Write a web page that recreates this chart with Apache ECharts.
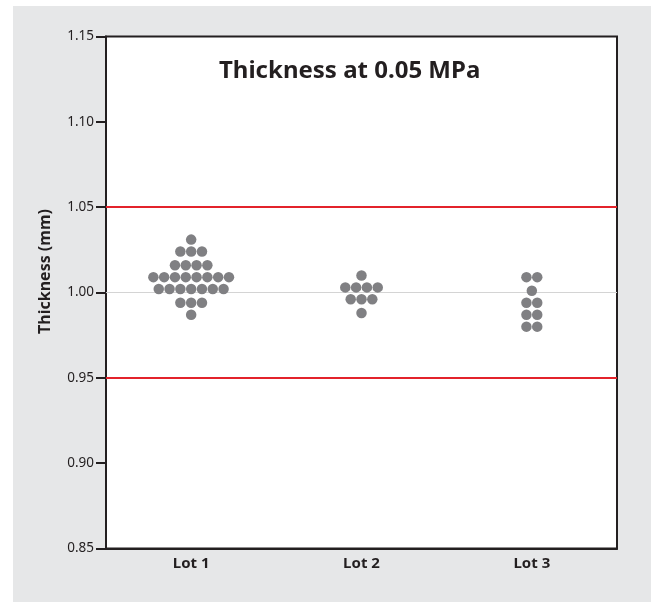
<!DOCTYPE html>
<html>
<head>
<meta charset="utf-8">
<script src="https://cdn.jsdelivr.net/npm/echarts@6/dist/echarts.min.js"></script>
<style>html,body{margin:0;padding:0;background:#fff;}#chart{width:651px;height:602px;}</style>
</head>
<body>
<div id="chart"></div>
<script>
// ---- Data ----
const titleText = 'Thickness at 0.05 MPa';
const yAxisName = 'Thickness (mm)';
const lots = ['Lot 1', 'Lot 2', 'Lot 3'];
const lot1Values = [1.031,
  1.024, 1.024, 1.024,
  1.016, 1.016, 1.016, 1.016,
  1.009, 1.009, 1.009, 1.009, 1.009, 1.009, 1.009, 1.009,
  1.002, 1.002, 1.002, 1.002, 1.002, 1.002, 1.002,
  0.994, 0.994, 0.994,
  0.987];
const lot2Values = [1.010,
  1.003, 1.003, 1.003, 1.003,
  0.996, 0.996, 0.996,
  0.988];
const lot3Values = [1.009, 1.009,
  1.001,
  0.994, 0.994,
  0.987, 0.987,
  0.980, 0.980];
const specLimits = [1.05, 0.95];
const nominal = 1.00;
const yMin = 0.85, yMax = 1.15, yStep = 0.05;

// ---- Layout: dot-plot stacking (horizontal spread of equal values) ----
const dotSpacing = 10.8;
const allLots = [lot1Values, lot2Values, lot3Values];
const dotData = [];
allLots.forEach(function (vals, li) {
  const groups = {};
  vals.forEach(function (v) { const k = v.toFixed(3); (groups[k] = groups[k] || []).push(v); });
  Object.keys(groups).forEach(function (k) {
    const g = groups[k];
    g.forEach(function (v, j) {
      dotData.push({ value: [lots[li], v], symbolOffset: [(j - (g.length - 1) / 2) * dotSpacing, 0] });
    });
  });
});

const textColor = '#231f20';
const chart = echarts.init(document.getElementById('chart'));
chart.setOption({
  backgroundColor: '#e6e7e8',
  animation: false,
  graphic: [
    { type: 'rect', shape: { x: 0, y: 0, width: 651, height: 6 }, style: { fill: '#fff' }, silent: true },
    { type: 'rect', shape: { x: 0, y: 0, width: 13, height: 602 }, style: { fill: '#fff' }, silent: true }
  ],
  title: {
    text: titleText,
    left: 214, top: 54,
    textStyle: { fontFamily: 'Noto Sans', fontWeight: 'bold', fontSize: 24, color: textColor }
  },
  grid: {
    left: 106, right: 34, top: 36.5, bottom: 53.5,
    show: true, backgroundColor: '#ffffff', borderColor: textColor, borderWidth: 2
  },
  xAxis: {
    type: 'category',
    data: lots,
    boundaryGap: true,
    axisLine: { lineStyle: { color: textColor, width: 2 } },
    axisTick: { show: false },
    axisLabel: { margin: 8, color: textColor, fontFamily: 'Noto Sans', fontWeight: 'bold', fontSize: 15 },
    splitLine: { show: false }
  },
  yAxis: {
    type: 'value',
    min: yMin, max: yMax, interval: yStep,
    name: yAxisName,
    nameLocation: 'middle',
    nameGap: 53,
    nameTextStyle: { color: textColor, fontFamily: 'Noto Sans', fontWeight: 'bold', fontSize: 16, padding: [0, 0, 0, 42] },
    axisLine: { show: true, lineStyle: { color: textColor, width: 2 } },
    axisTick: { show: true, length: 10, lineStyle: { color: textColor, width: 2 } },
    axisLabel: { margin: 12, color: textColor, fontFamily: 'Noto Sans', fontSize: 13.5, formatter: function (v) { return v.toFixed(2); } },
    splitLine: { show: false }
  },
  series: [{
    type: 'scatter',
    symbol: 'circle',
    symbolSize: 10.5,
    itemStyle: { color: '#808083', opacity: 1 },
    data: dotData,
    z: 5,
    markLine: {
      silent: true,
      symbol: 'none',
      label: { show: false },
      data: [
        { yAxis: specLimits[0], lineStyle: { color: '#e3232b', width: 2, type: 'solid' } },
        { yAxis: specLimits[1], lineStyle: { color: '#e3232b', width: 2, type: 'solid' } },
        { yAxis: nominal, lineStyle: { color: '#d4d4d4', width: 1, type: 'solid' } }
      ]
    }
  }]
});
</script>
</body>
</html>
